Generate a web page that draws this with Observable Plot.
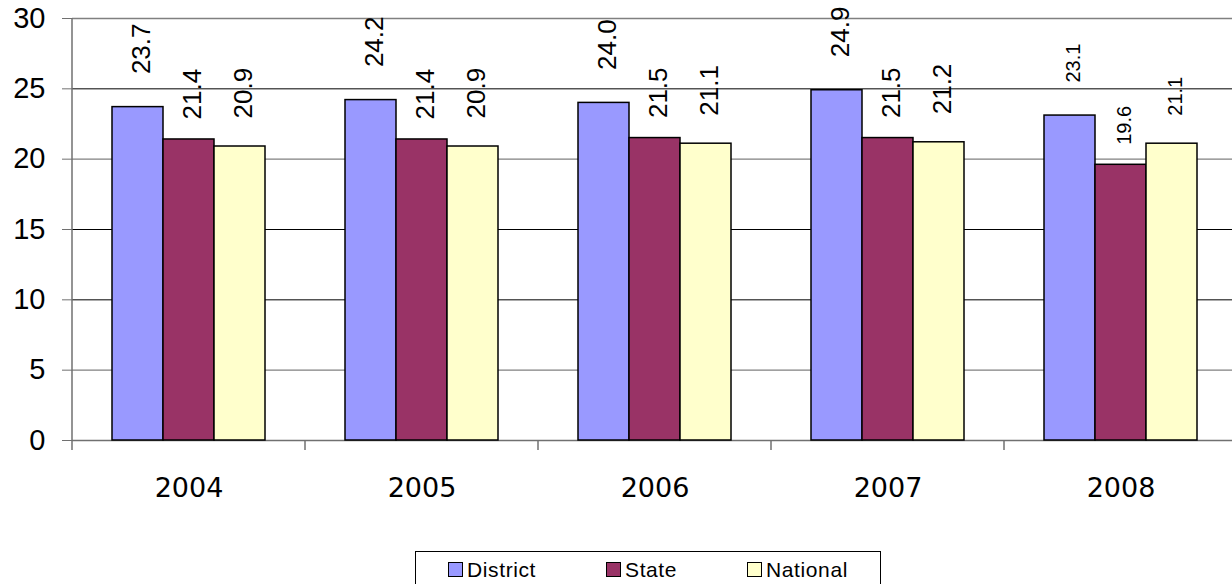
<!DOCTYPE html>
<html><head><meta charset="utf-8">
<script src="https://cdn.jsdelivr.net/npm/d3@7"></script>
<script src="https://cdn.jsdelivr.net/npm/@observablehq/plot@0.6"></script>
<style>
body{margin:0;background:#fff;width:1232px;height:584px;overflow:hidden;position:relative;font-family:"Liberation Sans",Arial,sans-serif;}
#chart svg{max-width:none !important;}
#legend{position:absolute;left:415px;top:551px;width:466px;height:40px;box-sizing:border-box;border:1px solid #000;display:flex;justify-content:center;gap:70px;padding-top:7px;font-size:21px;line-height:22px;letter-spacing:0.6px;}
.item{white-space:nowrap}
.sw{display:inline-block;width:15px;height:15px;box-sizing:border-box;border:1px solid #000;margin-right:4px;vertical-align:baseline}
</style></head><body>
<div id="chart"></div><div id="legend"></div>
<script>
const years = ["2004", "2005", "2006", "2007", "2008"];
const series = ["District", "State", "National"];
const district = [23.7, 24.2, 24.0, 24.9, 23.1];
const state = [21.4, 21.4, 21.5, 21.5, 19.6];
const national = [20.9, 20.9, 21.1, 21.2, 21.1];
const colors = ["#9999FF", "#993366", "#FFFFCC"];
const yTicks = [0, 5, 10, 15, 20, 25, 30];

const valuesBySeries = [district, state, national];
const data = years.flatMap((yr, i) => series.map((s, j) => ({year: yr, series: s, value: valuesBySeries[j][i]})));

const labelMark = (s, gap) => Plot.text(data.filter(d => d.series === s), {
  fx: "year", x: "series", y: "value",
  text: d => d.value.toFixed(1),
  rotate: -90, textAnchor: "start", lineAnchor: "middle",
  dy: -gap, dx: 4,
  fontSize: d => d.year === "2008" ? 20 : 26,
  fill: "#000"
});

const plot = Plot.plot({
  width: 1238, height: 540,
  marginTop: 18, marginRight: 0, marginBottom: 100, marginLeft: 71,
  style: {fontFamily: '"Liberation Sans", Arial, sans-serif', background: "transparent", overflow: "visible", color: "#000", maxWidth: "none"},
  fx: {domain: years, padding: 0, axis: null, label: null},
  x: {domain: series, paddingInner: 0, paddingOuter: 0.745, axis: null, label: null},
  y: {domain: [0, 30], axis: null, label: null},
  color: {domain: series, range: colors},
  marks: [
    Plot.ruleY(yTicks.filter(t => t === 30 || t === 20 || t === 5), {stroke: "#808080", strokeWidth: 1.3}),
    Plot.ruleY(yTicks.filter(t => t === 25 || t === 15 || t === 10), {stroke: "#000", strokeWidth: 1}),
    Plot.ruleY([0], {stroke: "#707070", strokeWidth: 1.5}),
    Plot.barY(data, {fx: "year", x: "series", y: "value", fill: "series", stroke: "#000", strokeWidth: 1.5}),
    labelMark("District", 33),
    labelMark("State", 20),
    labelMark("National", 28),
    Plot.axisY(yTicks, {tickSize: 10, tickPadding: 17, fontSize: 29, stroke: "#707070", fill: "#000", label: null}),
    Plot.axisFx({anchor: "bottom", tickSize: 0, tickPadding: 37, fontSize: 27, fontFamily: "DejaVu Sans", fill: "#000", label: null})
  ]
});

// axis line and category boundary ticks from the plot's own scales
const fxs = plot.scale("fx"), ys = plot.scale("y");
const svg = d3.select(plot.tagName.toLowerCase() === "svg" ? plot : plot.querySelector("svg"));
const g = svg.append("g").attr("stroke", "#707070").attr("stroke-width", 1.5);
const x0 = fxs.apply(years[0]);
g.append("line").attr("x1", x0).attr("x2", x0).attr("y1", ys.apply(30)).attr("y2", ys.apply(0) + 10);
years.slice(1).forEach(yr => {
  const x = fxs.apply(yr);
  g.append("line").attr("x1", x).attr("x2", x).attr("y1", ys.apply(0)).attr("y2", ys.apply(0) + 10);
});
document.getElementById("chart").appendChild(plot);

const legend = d3.select("#legend");
series.forEach((s, i) => {
  const item = legend.append("div").attr("class", "item");
  item.append("span").attr("class", "sw").style("background", colors[i]);
  item.append("span").text(s);
});
</script>
</body></html>
